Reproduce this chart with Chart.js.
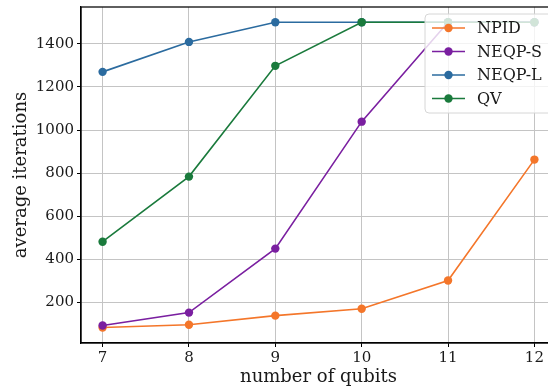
<!DOCTYPE html>
<html>
<head>
<meta charset="utf-8">
<script src="https://cdn.jsdelivr.net/npm/chart.js@4/dist/chart.umd.min.js"></script>
<style>
  html, body { margin: 0; padding: 0; background: #fff; overflow: hidden; }
  #wrap { width: 548px; height: 388px; overflow: hidden; }
  canvas { display: block; }
</style>
</head>
<body>
<div id="wrap"><canvas id="qubitChart" width="556" height="388"></canvas></div>
<script>
// values
var qubits = [7, 8, 9, 10, 11, 12];
var npid = [84, 97, 139, 171, 302, 863];
var neqpS = [93, 153, 450, 1039, 1500, 1500];
var neqpL = [1270, 1409, 1500, 1500, 1500, 1500];
var qv = [482, 784, 1298, 1500, 1500, 1500];
var seriesNames = ["NPID", "NEQP-S", "NEQP-L", "QV"];
var xTicks = [7, 8, 9, 10, 11, 12];
var yTicks = [200, 400, 600, 800, 1000, 1200, 1400];

var colors = ['#f4762a', '#7a1fa0', '#2b6b9f', '#1a7a3c'];
var serif = "'DejaVu Serif', serif";

function toPoints(vals) {
    return vals.map(function (v, i) { return { x: qubits[i], y: v }; });
}

var allSeries = [npid, neqpS, neqpL, qv];
var datasets = allSeries.map(function (vals, i) {
    return {
        label: seriesNames[i],
        data: toPoints(vals),
        borderColor: colors[i],
        backgroundColor: colors[i],
        borderWidth: 1.6,
        pointRadius: 4.2,
        pointHoverRadius: 4.2,
        pointBorderWidth: 0,
        tension: 0,
        clip: false,
        order: 4 - i   // later series are drawn on top, like matplotlib
    };
});

// full box around the axes plus the matplotlib-style legend
var frameAndLegend = {
    id: 'frameAndLegend',
    afterDraw: function (chart) {
        var c = chart.ctx;
        var xs = chart.scales.x, ys = chart.scales.y;
        var l = xs.getPixelForValue(xs.min), rgt = xs.getPixelForValue(xs.max);
        var t = ys.getPixelForValue(ys.max), b = ys.getPixelForValue(ys.min);
        c.save();
        c.strokeStyle = '#000';
        c.lineWidth = 1.25;
        c.strokeRect(l, t, rgt - l, b - t);

        var lx = 425, ly = 14, lw = 140, lh = 99, r = 4;
        c.beginPath();
        c.moveTo(lx + r, ly);
        c.lineTo(lx + lw - r, ly);
        c.arcTo(lx + lw, ly, lx + lw, ly + r, r);
        c.lineTo(lx + lw, ly + lh - r);
        c.arcTo(lx + lw, ly + lh, lx + lw - r, ly + lh, r);
        c.lineTo(lx + r, ly + lh);
        c.arcTo(lx, ly + lh, lx, ly + lh - r, r);
        c.lineTo(lx, ly + r);
        c.arcTo(lx, ly, lx + r, ly, r);
        c.closePath();
        c.fillStyle = 'rgba(255,255,255,0.8)';
        c.fill();
        c.strokeStyle = '#d6d6d6';
        c.lineWidth = 1;
        c.stroke();

        c.font = '16px ' + serif;
        c.textBaseline = 'middle';
        chart.data.datasets.forEach(function (ds, i) {
            var y = 28 + i * 23.5;
            c.strokeStyle = ds.borderColor;
            c.lineWidth = 1.6;
            c.beginPath();
            c.moveTo(432, y);
            c.lineTo(465, y);
            c.stroke();
            c.fillStyle = ds.borderColor;
            c.beginPath();
            c.arc(448.5, y, 4.2, 0, Math.PI * 2);
            c.fill();
            c.fillStyle = '#1a1a1a';
            c.fillText(ds.label, 477, y + 1);
        });
        c.restore();
    }
};

var ctx = document.getElementById('qubitChart').getContext('2d');
var qubitChart = new Chart(ctx, {
    type: 'line',
    data: { datasets: datasets },
    options: {
        responsive: false,
        animation: false,
        layout: { autoPadding: false, padding: { top: 7, right: 0, left: 0, bottom: 0 } },
        plugins: { legend: { display: false }, tooltip: { enabled: false } },
        scales: {
            x: {
                type: 'linear',
                min: 6.75,
                max: 12.25,
                afterBuildTicks: function (scale) {
                    scale.ticks = xTicks.map(function (v) { return { value: v }; });
                },
                afterFit: function (scale) {
                    scale.height = 45;
                    scale.paddingLeft = 0;
                    scale.paddingRight = 0;
                },
                grid: { color: '#c4c4c4', lineWidth: 1, tickColor: '#000', tickLength: 4 },
                border: { color: '#000', width: 1.25 },
                ticks: { color: '#1a1a1a', font: { family: serif, size: 15 }, padding: 2, maxRotation: 0 },
                title: { display: true, text: 'number of qubits', color: '#1a1a1a',
                         font: { family: serif, size: 18 }, padding: { top: 0, bottom: 0 } }
            },
            y: {
                min: 12,
                max: 1571,
                afterBuildTicks: function (scale) {
                    scale.ticks = yTicks.map(function (v) { return { value: v }; });
                },
                afterFit: function (scale) {
                    scale.width = 81;
                    scale.paddingTop = 0;
                    scale.paddingBottom = 0;
                },
                grid: { color: '#c4c4c4', lineWidth: 1, tickColor: '#000', tickLength: 4 },
                border: { color: '#000', width: 1.25 },
                ticks: { color: '#1a1a1a', font: { family: serif, size: 15 }, padding: 3,
                         callback: function (v) { return String(v); } },
                title: { display: true, text: 'average iterations', color: '#1a1a1a',
                         font: { family: serif, size: 18 }, padding: { top: 11, bottom: 0 } }
            }
        }
    },
    plugins: [frameAndLegend]
});
</script>
</body>
</html>
